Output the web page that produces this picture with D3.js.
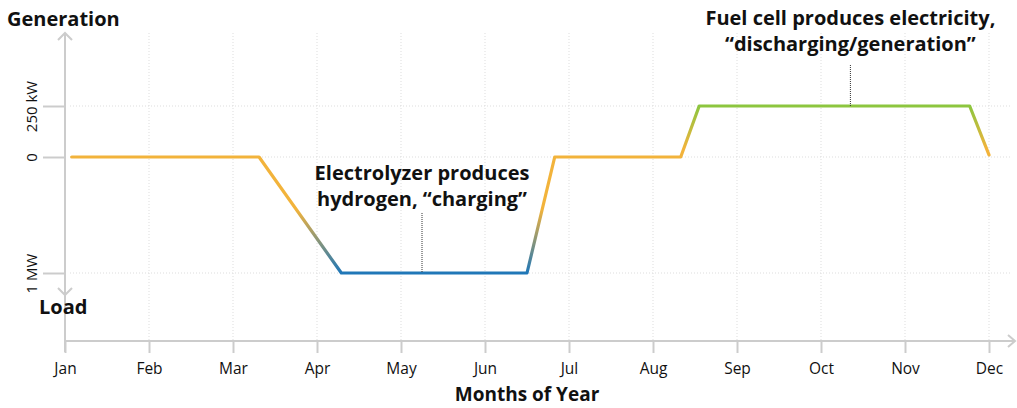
<!DOCTYPE html>
<html><head><meta charset="utf-8">
<script src="https://cdn.jsdelivr.net/npm/d3@7"></script>
<style>body{margin:0;background:#fff}svg{display:block}text{font-family:"Open Sans","Noto Sans",sans-serif;fill:#111}</style>
</head><body><svg id="c" width="1017" height="408"></svg>
<script>
const months = ["Jan","Feb","Mar","Apr","May","Jun","Jul","Aug","Sep","Oct","Nov","Dec"];
const yTickValues = [-1000, 0, 250];
const yTickLabels = ["1 MW", "0", "250 kW"];
// month position (0 = Jan) and power in kW (positive = generation, negative = load)
const profileMonth = [0.08, 2.31, 3.29, 5.5, 5.83, 7.33, 7.55, 10.77, 11.0];
const profileKW    = [0,    0,    -1000, -1000, 0,  0,    250,  250,   10];
const annotations = [
  {lines:["Electrolyzer produces","hydrogen, \u201Ccharging\u201D"], month:4.25, kw:-1000},
  {lines:["Fuel cell produces electricity,","\u201Cdischarging/generation\u201D"], month:9.35, kw:250}
];

const svg = d3.select("#c");
const x = d3.scaleLinear().domain([0, 11]).range([65, 989]);
const y = d3.scaleLinear().domain([-1000, 0, 250]).range([273, 157, 106]);
const axisY = 341, topY = 33;

// grid
const g = svg.append("g");
g.selectAll(".vg").data(months.slice(1)).join("line")
  .attr("x1",(d,i)=>x(i+1)).attr("x2",(d,i)=>x(i+1)).attr("y1",topY).attr("y2",axisY)
  .attr("stroke","#ddd").attr("stroke-width",1).attr("stroke-dasharray","1,2");
g.selectAll(".hg").data(yTickValues).join("line")
  .attr("x1",70).attr("x2",1010).attr("y1",d=>y(d)).attr("y2",d=>y(d))
  .attr("stroke","#ddd").attr("stroke-width",1).attr("stroke-dasharray","1,2");

// x axis
const xAxis = d3.axisBottom(x).tickValues(d3.range(12)).tickFormat(i=>months[i]).tickSize(12).tickPadding(6);
const xa = svg.append("g").attr("transform",`translate(0,${axisY})`).call(xAxis);
xa.attr("font-size",null).attr("font-family",null);
xa.select(".domain").remove();
xa.selectAll(".tick line").attr("stroke","#ccc").attr("stroke-width",2);
xa.selectAll(".tick text").attr("y",33).attr("dy",0).attr("fill","#111")
  .style("font-size","15.5px").style("font-family",'"Open Sans",sans-serif');
svg.append("line").attr("x1",64).attr("x2",1014).attr("y1",axisY).attr("y2",axisY).attr("stroke","#ccc").attr("stroke-width",2);
svg.append("path").attr("d",`M1008,${axisY-6}L1015,${axisY}L1008,${axisY+6}`).attr("fill","none").attr("stroke","#ccc").attr("stroke-width",2);

// y axis
const yAxis = d3.axisLeft(y).tickValues(yTickValues).tickFormat((d,i)=>yTickLabels[i]).tickSize(22).tickPadding(6);
const ya = svg.append("g").attr("transform","translate(65,0)").call(yAxis);
ya.attr("font-size",null).attr("font-family",null);
ya.select(".domain").remove();
ya.selectAll(".tick line").attr("stroke","#ccc").attr("stroke-width",2);
ya.selectAll(".tick text").attr("fill","#111")
  .attr("text-anchor","middle").attr("x",0).attr("dy",0).attr("y",0)
  .attr("transform","translate(-28,0) rotate(-90)")
  .style("font-size","15px").style("font-family",'"Open Sans",sans-serif');
svg.append("line").attr("x1",65).attr("x2",65).attr("y1",topY).attr("y2",352).attr("stroke","#ccc").attr("stroke-width",2);
svg.append("path").attr("d",`M58,${topY+7}L65,${topY}L72,${topY+7}`).attr("fill","none").attr("stroke","#ccc").attr("stroke-width",2);
svg.append("path").attr("d",`M58,288L65,295L72,288`).attr("fill","none").attr("stroke","#ccc").attr("stroke-width",2);

// labels
svg.append("text").attr("x",7).attr("y",26).attr("font-size",20).attr("font-weight",700).text("Generation");
svg.append("text").attr("x",39).attr("y",314).attr("font-size",20).attr("font-weight",700).text("Load");
svg.append("text").attr("x",527).attr("y",401).attr("text-anchor","middle").attr("font-size",19).attr("font-weight",700).text("Months of Year");

// gradient
const defs = svg.append("defs");
const grad = defs.append("linearGradient").attr("id","lg").attr("gradientUnits","userSpaceOnUse")
  .attr("x1",0).attr("x2",0).attr("y1",y(250)).attr("y2",y(-1000));
[[y(250),"#8cc63f"],[y(40),"#f2b33b"],[y(-450),"#f2b33b"],[y(-1000),"#1f77b8"]].forEach(([py,c])=>{
  grad.append("stop").attr("offset",(py-y(250))/(y(-1000)-y(250))).attr("stop-color",c);
});

const data = profileMonth.map((m,i)=>[m, profileKW[i]]);
svg.append("path").datum(data)
  .attr("d", d3.line().x(d=>x(d[0])).y(d=>y(d[1])))
  .attr("fill","none").attr("stroke","url(#lg)").attr("stroke-width",3.2)
  .attr("stroke-linejoin","round").attr("stroke-linecap","round");

// annotations
const ann = svg.append("g");
annotations.forEach((a,k)=>{
  const ax = x(a.month), ay = y(a.kw);
  const top = k===0 ? 213 : 65;
  const firstBase = k===0 ? 180 : 25;
  ann.append("line").attr("x1",ax).attr("x2",ax).attr("y1",top).attr("y2",ay)
    .attr("stroke","#333").attr("stroke-width",1).attr("stroke-dasharray","1,1");
  a.lines.forEach((t,j)=>{
    ann.append("text").attr("x",ax).attr("y",firstBase + j*26).attr("text-anchor","middle")
      .attr("font-size",20).attr("font-weight",700).text(t);
  });
});
</script></body></html>
